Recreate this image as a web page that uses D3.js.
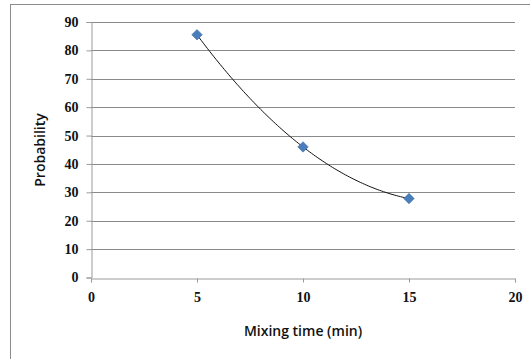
<!DOCTYPE html>
<html>
<head>
<meta charset="utf-8">
<script src="https://cdn.jsdelivr.net/npm/d3@7/dist/d3.min.js"></script>
<style>
  html, body { margin: 0; padding: 0; background: #fff; }
  svg { display: block; }
</style>
</head>
<body>
<svg id="chart" width="530" height="359"></svg>
<script>
// Observed mixing times and probabilities
const mixingTime = [5, 10, 15];
const probability = [85.5, 46, 27.8];
const xTicks = [0, 5, 10, 15, 20];
const yTicks = [0, 10, 20, 30, 40, 50, 60, 70, 80, 90];

const svg = d3.select("#chart");
const W = 530, H = 359;
const plot = { left: 91, right: 515, top: 22, bottom: 277.5 };

// Chart-area frame
svg.append("rect")
  .attr("x", 10.5).attr("y", 4.5)
  .attr("width", W + 20).attr("height", H + 20)
  .attr("fill", "#fff").attr("stroke", "#8c8c8c").attr("stroke-width", 1);

const x = d3.scaleLinear().domain([0, 20]).range([plot.left, plot.right]);
const y = d3.scaleLinear().domain([0, 90]).range([plot.bottom, plot.top]);

// Horizontal gridlines
svg.append("g").selectAll("line").data(yTicks.filter(d => d > 0)).join("line")
  .attr("x1", plot.left).attr("x2", plot.right)
  .attr("y1", d => Math.round(y(d)) + 0.5).attr("y2", d => Math.round(y(d)) + 0.5)
  .attr("stroke", "#8a8a8a").attr("stroke-width", 1);

// Y axis
const yAxis = svg.append("g")
  .attr("transform", `translate(${plot.left + 0.5},0)`)
  .call(d3.axisLeft(y).tickValues(yTicks).tickSize(5).tickPadding(8).tickFormat(d3.format("d")));

// X axis
const xAxis = svg.append("g")
  .attr("transform", `translate(0,${Math.round(plot.bottom) + 0.5})`)
  .call(d3.axisBottom(x).tickValues(xTicks).tickSize(4).tickPadding(10).tickFormat(d3.format("d")));

[yAxis, xAxis].forEach(g => {
  g.select(".domain").attr("stroke", "#9a9a9a");
  g.selectAll(".tick line").attr("stroke", "#9a9a9a");
  g.selectAll(".tick text")
    .attr("fill", "#111")
    .style("font-family", "'Liberation Serif', 'DejaVu Serif', serif")
    .style("font-weight", "bold")
    .style("font-size", "14px");
});

// Second-order polynomial trendline through the observations
function polyFit2(xs, ys) {
  const n = xs.length;
  let s = [0, 0, 0, 0, 0], t = [0, 0, 0];
  for (let i = 0; i < n; i++) {
    for (let k = 0; k <= 4; k++) s[k] += Math.pow(xs[i], k);
    for (let k = 0; k <= 2; k++) t[k] += ys[i] * Math.pow(xs[i], k);
  }
  const A = [[s[0], s[1], s[2]], [s[1], s[2], s[3]], [s[2], s[3], s[4]]];
  const b = t.slice();
  for (let c = 0; c < 3; c++) {
    let p = c;
    for (let r = c + 1; r < 3; r++) if (Math.abs(A[r][c]) > Math.abs(A[p][c])) p = r;
    [A[c], A[p]] = [A[p], A[c]]; [b[c], b[p]] = [b[p], b[c]];
    for (let r = 0; r < 3; r++) {
      if (r === c) continue;
      const f = A[r][c] / A[c][c];
      for (let k = c; k < 3; k++) A[r][k] -= f * A[c][k];
      b[r] -= f * b[c];
    }
  }
  return [b[0] / A[0][0], b[1] / A[1][1], b[2] / A[2][2]];
}
const coef = polyFit2(mixingTime, probability);
const xMin = d3.min(mixingTime), xMax = d3.max(mixingTime);
const trend = d3.range(0, 101).map(i => {
  const t = xMin + (xMax - xMin) * i / 100;
  return [t, coef[0] + coef[1] * t + coef[2] * t * t];
});
svg.append("path")
  .datum(trend)
  .attr("fill", "none").attr("stroke", "#111").attr("stroke-width", 1)
  .attr("d", d3.line().x(d => x(d[0])).y(d => y(d[1])));

// Data markers (diamonds)
svg.append("g").selectAll("path").data(mixingTime.map((t, i) => [t, probability[i]])).join("path")
  .attr("transform", d => `translate(${x(d[0])},${y(d[1])})`)
  .attr("d", d3.symbol().type(d3.symbolDiamond2).size(70)())
  .attr("fill", "#4a7ebb").attr("stroke", "#3d6ea8").attr("stroke-width", 0.6);

// Axis titles
svg.append("text")
  .attr("x", 303).attr("y", 336)
  .attr("text-anchor", "middle")
  .style("font-family", "'Open Sans', sans-serif").style("font-weight", 600).style("font-size", "14px")
  .attr("fill", "#111")
  .text("Mixing time (min)");

svg.append("text")
  .attr("transform", "translate(45,150) rotate(-90)")
  .attr("text-anchor", "middle")
  .style("font-family", "'Open Sans', sans-serif").style("font-weight", 600).style("font-size", "14px")
  .attr("fill", "#111")
  .text("Probability");
</script>
</body>
</html>
